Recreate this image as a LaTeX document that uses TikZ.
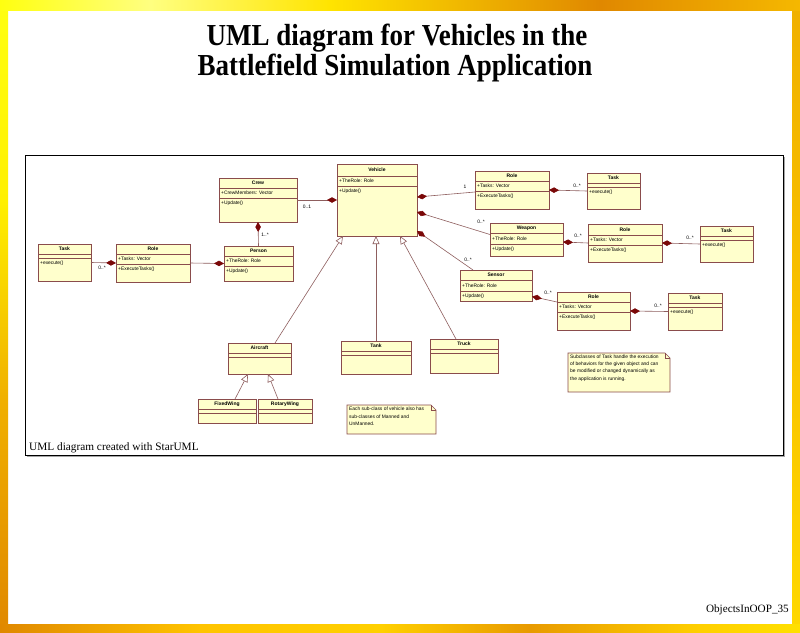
\documentclass[tikz,border=0pt]{standalone}
\usepackage{fontspec}
\setmainfont{Liberation Serif}
\newfontfamily\umlsans{Liberation Sans}
\usetikzlibrary{arrows.meta,calc}

\definecolor{clsfill}{HTML}{FFFFCC}
\definecolor{clsdraw}{HTML}{8A4C4C}
\definecolor{linkcol}{HTML}{8E5E5E}
\definecolor{diamcol}{HTML}{7A0808}

% slide border colours
\definecolor{bYa}{HTML}{FFFF10}
\definecolor{bYb}{HTML}{FFFF80}
\definecolor{bYc}{HTML}{FFE400}
\definecolor{bOa}{HTML}{E08800}
\definecolor{bOb}{HTML}{F5B800}
\definecolor{bOc}{HTML}{FFC400}
\definecolor{bOd}{HTML}{FFD000}
\definecolor{bOe}{HTML}{E89A00}
\definecolor{bOf}{HTML}{FFE000}
\definecolor{bOg}{HTML}{FFF000}
\definecolor{bOh}{HTML}{F0B000}
\definecolor{bOi}{HTML}{F8C000}
\definecolor{bOj}{HTML}{FFD800}

% the band runs from 25bp to 75bp of each shading
\pgfdeclarehorizontalshading{topband}{100bp}{color(0bp)=(bYa); color(25bp)=(bYa);
  color(34.4bp)=(bYb); color(45.6bp)=(bYc); color(62.5bp)=(bOa); color(75bp)=(bOb); color(100bp)=(bOb)}
\pgfdeclarehorizontalshading{bottomband}{100bp}{color(0bp)=(bOa); color(25bp)=(bOa);
  color(37.5bp)=(bOc); color(48.8bp)=(bOd); color(58.1bp)=(bOe); color(68.8bp)=(bOd); color(75bp)=(bOf); color(100bp)=(bOf)}
\pgfdeclareverticalshading{leftband}{100bp}{color(0bp)=(bOa); color(25bp)=(bOa);
  color(43.4bp)=(bOh); color(59.2bp)=(bOg); color(75bp)=(bYa); color(100bp)=(bYa)}
\pgfdeclareverticalshading{rightband}{100bp}{color(0bp)=(bOj); color(25bp)=(bOj);
  color(51.3bp)=(bOi); color(75bp)=(bOh); color(100bp)=(bOh)}

\tikzset{
  clsbox/.style={draw=clsdraw, fill=clsfill, line width=0.7pt, inner sep=0pt, outer sep=0pt},
  compline/.style={draw=clsdraw, line width=0.6pt},
  clsname/.style={font=\umlsans\bfseries\fontsize{5}{6}\selectfont, inner sep=0pt},
  member/.style={font=\umlsans\fontsize{4.9}{6}\selectfont, inner sep=0pt, anchor=west},
  mult/.style={font=\umlsans\fontsize{4.9}{6}\selectfont, inner sep=0pt},
  link/.style={draw=linkcol, line width=0.6pt},
  compose/.style={link, -{Diamond[length=10pt,width=5.5pt,color=diamcol,fill=diamcol]}},
  inherit/.style={link, -{Triangle[open,length=8pt,width=7pt,fill=white,color=linkcol]}},
  notebox/.style={inner sep=0pt, outer sep=0pt},
  noteline/.style={draw=clsdraw, fill=clsfill, line width=0.6pt},
  notetext/.style={font=\umlsans\fontsize{4.9}{7.3}\selectfont, align=left, inner sep=0pt, anchor=north west},
  heading/.style={font=\bfseries\fontsize{27}{30}\selectfont, anchor=base, inner sep=0pt},
}

% \umlclass{name}{x1}{y1}{x2}{y2}{title}{y of first rule}{y of second rule}
\newcommand\umlclass[8]{%
  \node[clsbox, anchor=north west, minimum width={(#4-#2)*1pt}, minimum height={(#5-#3)*1pt}] (#1) at (#2,#3) {};
  \draw[compline] (#2,#7) -- (#4,#7) (#2,#8) -- (#4,#8);
  \node[clsname] (#1-name) at ({(#2+#4)/2},{(#3+#7)/2}) {#6};
  \coordinate (#1-a) at ({#2+2},{(#7+#8)/2});
  \coordinate (#1-o) at ({#2+2},{#8+5});
}

\begin{document}
\begin{tikzpicture}[x=1pt,y=-1pt]
\useasboundingbox (0,0) rectangle (800,632);

% slide background and border
\fill[white] (0,0) rectangle (800,632);
\shade[shading=leftband] (0,0) rectangle (8,632);
\shade[shading=rightband] (792,0) rectangle (800,632);
\shade[shading=topband] (0,0) rectangle (800,10);
\shade[shading=bottomband] (0,624) rectangle (800,632);

% headings
\node[heading] (title1) at (397,45) {\scalebox{1}[1.13]{UML diagram for Vehicles in the}};
\node[heading] (title2) at (395,75) {\scalebox{1}[1.13]{Battlefield Simulation Application}};

% diagram frame with a slight shadow
\draw[gray!70, line width=0.8pt] (26.5,456.2) -- (784.2,456.2) -- (784.2,156.5);
\node[draw=black, line width=1.2pt, anchor=north west, minimum width=758pt, minimum height=300pt, inner sep=0pt] (frame) at (25,155) {};
\node[font=\fontsize{11.3}{13}\selectfont, anchor=base west, inner sep=0pt] (caption) at (29,450) {UML diagram created with StarUML};
\node[font=\fontsize{11.2}{13}\selectfont, anchor=base east, inner sep=0pt] (slideno) at (789,612) {ObjectsInOOP\_35};

% classes
\umlclass{task1}{38}{244}{91}{281}{Task}{254}{258}
\node[member] (task1-ops) at (task1-o) {+execute()};

\umlclass{role1}{116}{244}{190}{282}{Role}{254}{264}
\node[member] (role1-attr) at (role1-a) {+Tasks: Vector};
\node[member] (role1-ops) at (role1-o) {+ExecuteTasks()};

\umlclass{person}{224}{246}{293}{281}{Person}{256}{266}
\node[member] (person-attr) at (person-a) {+TheRole: Role};
\node[member] (person-ops) at (person-o) {+Update()};

\umlclass{crew}{219}{178}{297}{222}{Crew}{188}{198}
\node[member] (crew-attr) at (crew-a) {+CrewMembers: Vector};
\node[member] (crew-ops) at (crew-o) {+Update()};

\umlclass{vehicle}{337}{164}{417}{236}{Vehicle}{176}{186}
\node[member] (vehicle-attr) at (vehicle-a) {+TheRole: Role};
\node[member] (vehicle-ops) at (vehicle-o) {+Update()};

\umlclass{role2}{475}{171}{549}{209}{Role}{181}{191}
\node[member] (role2-attr) at (role2-a) {+Tasks: Vector};
\node[member] (role2-ops) at (role2-o) {+ExecuteTasks()};

\umlclass{task2}{587}{173}{640}{209}{Task}{183}{187}
\node[member] (task2-ops) at (task2-o) {+execute()};

\umlclass{weapon}{490}{223}{563}{256}{Weapon}{233}{244}
\node[member] (weapon-attr) at (weapon-a) {+TheRole: Role};
\node[member] (weapon-ops) at (weapon-o) {+Update()};

\umlclass{role3}{588}{224}{662}{262}{Role}{235}{245}
\node[member] (role3-attr) at (role3-a) {+Tasks: Vector};
\node[member] (role3-ops) at (role3-o) {+ExecuteTasks()};

\umlclass{task3}{700}{226}{753}{262}{Task}{236}{240}
\node[member] (task3-ops) at (task3-o) {+execute()};

\umlclass{sensor}{460}{270}{532}{301}{Sensor}{280}{291}
\node[member] (sensor-attr) at (sensor-a) {+TheRole: Role};
\node[member] (sensor-ops) at (sensor-o) {+Update()};

\umlclass{role4}{557}{292}{630}{330}{Role}{302}{312}
\node[member] (role4-attr) at (role4-a) {+Tasks: Vector};
\node[member] (role4-ops) at (role4-o) {+ExecuteTasks()};

\umlclass{task4}{668}{293}{722}{330}{Task}{303}{307}
\node[member] (task4-ops) at (task4-o) {+execute()};

\umlclass{aircraft}{228}{343}{291}{374}{Aircraft}{353}{357}
\umlclass{tank}{341}{341}{411}{374}{Tank}{351}{355}
\umlclass{truck}{430}{339}{498}{373}{Truck}{349}{353}
\umlclass{fixedwing}{198}{399}{256}{423}{FixedWing}{409}{413}
\umlclass{rotarywing}{258}{399}{312}{423}{RotaryWing}{409}{413}

% compositions (diamond at the whole)
\draw[compose] (task1.east) -- (role1.west);
\draw[compose] (role1.east) -- (person.west);
\draw[compose] (person.north) -- (crew.south);
\draw[compose] (crew.east) -- (vehicle.west);
\draw[compose] ($(role2.west)+(0,2)$) -- ($(vehicle.east)+(0,-3)$);
\draw[compose] ($(weapon.west)+(0,-5)$) -- ($(vehicle.east)+(0,12)$);
\draw[compose] ($(sensor.north west)+(13,0)$) -- ($(vehicle.south east)+(0,-5)$);
\draw[compose] (task2.west) -- (role2.east);
\draw[compose] (role3.west) -- ($(weapon.east)+(0,2.5)$);
\draw[compose] (task3.west) -- (role3.east);
\draw[compose] ($(role4.west)+(0,-9)$) -- ($(sensor.east)+(0,11)$);
\draw[compose] (task4.west) -- (role4.east);

% multiplicities
\node[mult] (m1) at (102,268) {0..*};
\node[mult] (m2) at (265,235) {1..*};
\node[mult] (m3) at (307,207) {0..1};
\node[mult] (m4) at (465,187) {1};
\node[mult] (m5) at (577,186) {0..*};
\node[mult] (m6) at (481,222) {0..*};
\node[mult] (m7) at (578,236) {0..*};
\node[mult] (m8) at (690,238) {0..*};
\node[mult] (m9) at (468,260) {0..*};
\node[mult] (m10) at (548,293) {0..*};
\node[mult] (m11) at (658,306) {0..*};

% generalizations
\draw[inherit] ($(aircraft.north west)+(47,0)$) -- ($(vehicle.south west)+(6,0)$);
\draw[inherit] (tank.north) -- (tank.north |- vehicle.south);
\draw[inherit] ($(truck.north west)+(26,0)$) -- ($(vehicle.south west)+(63,0)$);
\draw[inherit] ($(fixedwing.north west)+(37,0)$) -- ($(aircraft.south west)+(20,0)$);
\draw[inherit] ($(rotarywing.north west)+(20,0)$) -- ($(aircraft.south west)+(40,0)$);

% notes
\node[notebox, anchor=north west, minimum width=102pt, minimum height=39pt] (note1) at (568,353) {};
\draw[noteline] (note1.north west) -- ($(note1.north east)+(-5,0)$) -- ($(note1.north east)+(0,5)$)
  -- (note1.south east) -- (note1.south west) -- cycle;
\draw[compline] ($(note1.north east)+(-5,0)$) -- ($(note1.north east)+(-5,5)$) -- ($(note1.north east)+(0,5)$);
\node[notetext] (note1-text) at ($(note1.north west)+(2,1.5)$)
  {Subclasses of Task handle the execution\\of behaviors for the given object and can\\be modified or changed dynamically as\\the application is running.};

\node[notebox, anchor=north west, minimum width=89pt, minimum height=29pt] (note2) at (347,405) {};
\draw[noteline] (note2.north west) -- ($(note2.north east)+(-5,0)$) -- ($(note2.north east)+(0,5)$)
  -- (note2.south east) -- (note2.south west) -- cycle;
\draw[compline] ($(note2.north east)+(-5,0)$) -- ($(note2.north east)+(-5,5)$) -- ($(note2.north east)+(0,5)$);
\node[notetext] (note2-text) at ($(note2.north west)+(2,2)$)
  {Each sub-class of vehicle also has\\sub-classes of Manned and\\UnManned.};

\end{tikzpicture}
\end{document}
